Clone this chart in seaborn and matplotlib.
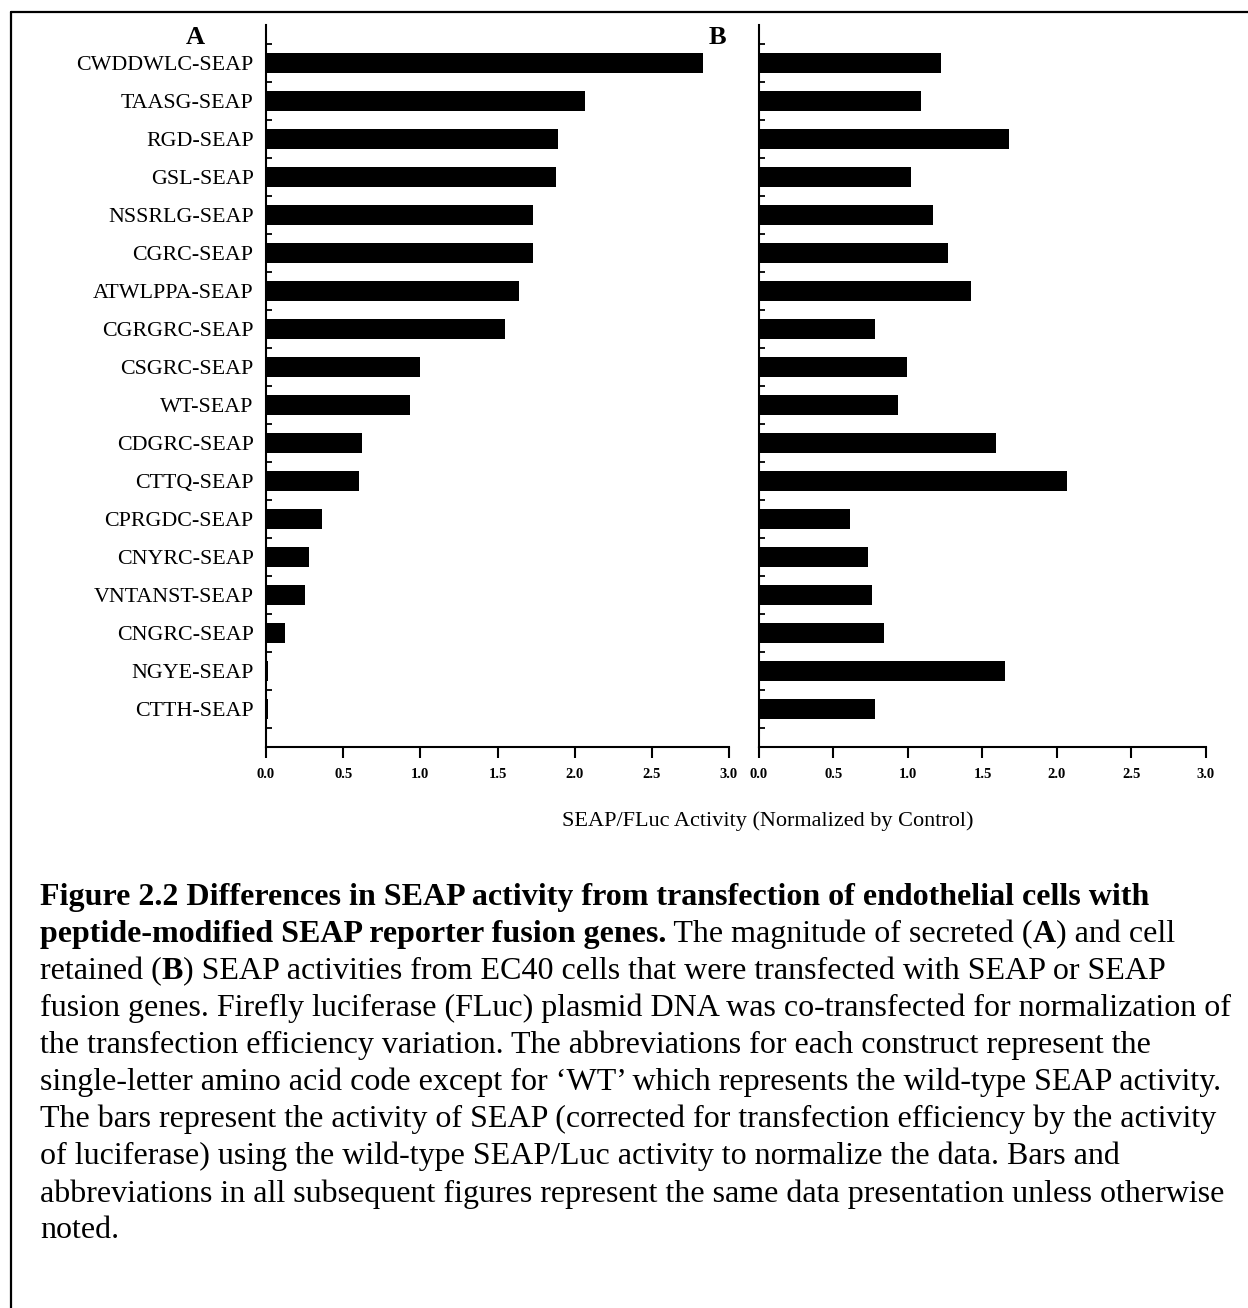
import matplotlib
matplotlib.use("Agg")
import matplotlib.pyplot as plt
import seaborn as sns
import numpy as np
import pandas as pd
from matplotlib.lines import Line2D

constructs = ["CWDDWLC-SEAP", "TAASG-SEAP", "RGD-SEAP", "GSL-SEAP", "NSSRLG-SEAP",
              "CGRC-SEAP", "ATWLPPA-SEAP", "CGRGRC-SEAP", "CSGRC-SEAP", "WT-SEAP",
              "CDGRC-SEAP", "CTTQ-SEAP", "CPRGDC-SEAP", "CNYRC-SEAP", "VNTANST-SEAP",
              "CNGRC-SEAP", "NGYE-SEAP", "CTTH-SEAP"]
secreted = [2.83, 2.07, 1.89, 1.88, 1.73, 1.73, 1.64, 1.55, 1.00, 0.93,
            0.62, 0.60, 0.36, 0.28, 0.25, 0.12, 0.01, 0.01]
retained = [1.22, 1.09, 1.68, 1.02, 1.17, 1.27, 1.42, 0.78, 0.99, 0.93,
            1.59, 2.07, 0.61, 0.73, 0.76, 0.84, 1.65, 0.78]
xticks = [0.0, 0.5, 1.0, 1.5, 2.0, 2.5, 3.0]
xlabel = "SEAP/FLuc Activity (Normalized by Control)"

caption = [
    [("Figure 2.2 Differences in SEAP activity from transfection of endothelial cells with", True)],
    [("peptide-modified SEAP reporter fusion genes.", True), (" The magnitude of secreted (", False),
     ("A", True), (") and cell", False)],
    [("retained (", False), ("B", True),
     (") SEAP activities from EC40 cells that were transfected with SEAP or SEAP", False)],
    [("fusion genes. Firefly luciferase (FLuc) plasmid DNA was co-transfected for normalization of", False)],
    [("the transfection efficiency variation. The abbreviations for each construct represent the", False)],
    [("single-letter amino acid code except for \u2018WT\u2019 which represents the wild-type SEAP activity.", False)],
    [("The bars represent the activity of SEAP (corrected for transfection efficiency by the activity", False)],
    [("of luciferase) using the wild-type SEAP/Luc activity to normalize the data. Bars and", False)],
    [("abbreviations in all subsequent figures represent the same data presentation unless otherwise", False)],
    [("noted.", False)],
]

sns.set_style("ticks")
plt.rcParams['font.family'] = ['Liberation Serif', 'DejaVu Serif']
for k in ["text.color", "axes.labelcolor", "xtick.color", "ytick.color", "axes.edgecolor"]:
    plt.rcParams[k] = "black"

W, H = 1248, 1308
fig = plt.figure(figsize=(W / 100, H / 100), dpi=100)

df = pd.DataFrame({"construct": constructs, "secreted": secreted, "retained": retained})

axA = fig.add_axes([266 / W, 1 - 747 / H, 463 / W, 722 / H])
axB = fig.add_axes([759 / W, 1 - 747 / H, 447 / W, 722 / H])

for ax, col in [(axA, "secreted"), (axB, "retained")]:
    sns.barplot(data=df, x=col, y="construct", orient="h", color="black",
                width=0.55, linewidth=0, saturation=1, ax=ax)
    ax.set_xlim(0, 3)
    ax.set_ylim(18, -1)
    ax.set_xticks(xticks)
    ax.set_xticklabels([f"{t:.1f}" for t in xticks], fontweight="bold", fontsize=10.5)
    ax.set_yticks(np.arange(-0.5, 18, 1), minor=True)
    ax.tick_params(axis="y", which="major", length=0, pad=9, labelsize=15.8)
    ax.tick_params(axis="y", which="minor", direction="in", length=4.5, width=1.3)
    ax.tick_params(axis="x", direction="out", length=8, width=1.5, pad=7)
    ax.set_xlabel("")
    ax.set_ylabel("")
    for s in ["top", "right"]:
        ax.spines[s].set_visible(False)
    for s in ["left", "bottom"]:
        ax.spines[s].set_linewidth(1.5)

axB.set_yticklabels([])

fig.text(195 / W, 1 - 38 / H, "A", fontsize=19, fontweight="bold", ha="center", va="center")
fig.text(717 / W, 1 - 38 / H, "B", fontsize=19, fontweight="bold", ha="center", va="center")
fig.text(768 / W, 1 - 821 / H, xlabel, fontsize=16, ha="center", va="center")

# figure border (top and left only)
fig.add_artist(Line2D([11 / W, 1], [1 - 12 / H, 1 - 12 / H], color="black", lw=1.6, transform=fig.transFigure))
fig.add_artist(Line2D([11 / W, 11 / W], [0, 1 - 12 / H], color="black", lw=1.6, transform=fig.transFigure))

# caption with mixed bold / regular runs
fig.canvas.draw()
r = fig.canvas.get_renderer()
y0, dy = 897, 37.1
for i, line in enumerate(caption):
    x = 40
    for seg, bold in line:
        t = fig.text(x / W, 1 - (y0 + i * dy) / H, seg, fontsize=23,
                     fontweight="bold" if bold else "normal", va="center", ha="left")
        x += t.get_window_extent(renderer=r).width

fig.savefig("out.png", dpi=100)
